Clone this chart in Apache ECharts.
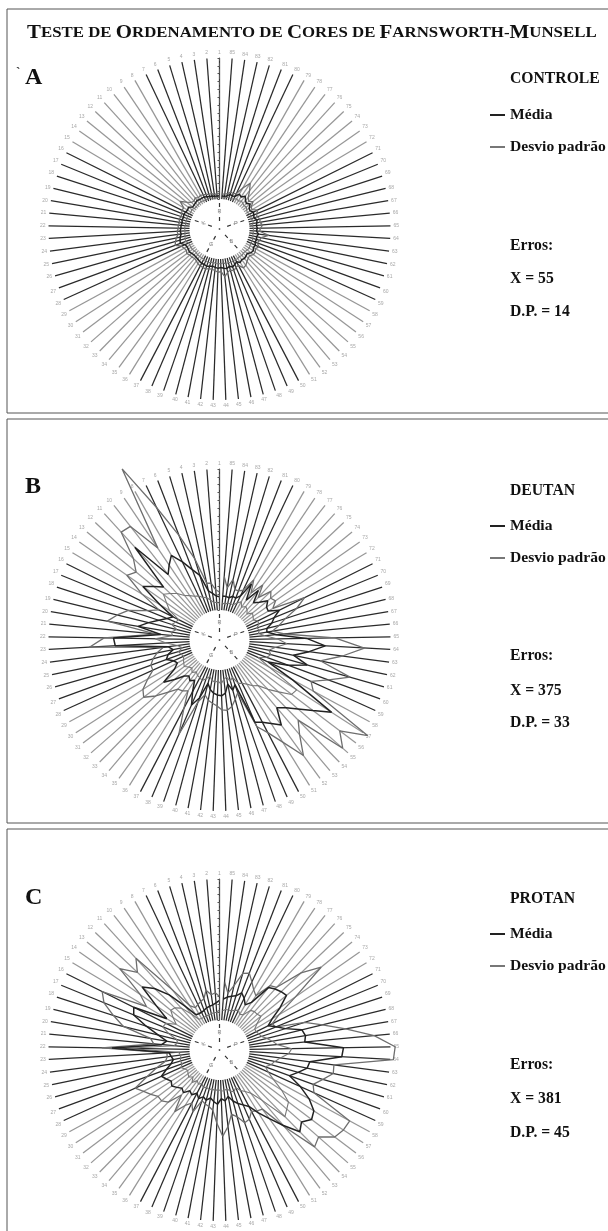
<!DOCTYPE html>
<html><head><meta charset="utf-8">
<style>html,body{margin:0;padding:0;background:#fff}#c{width:608px;height:1231px;filter:blur(0.35px)}</style>
<script src="https://cdn.jsdelivr.net/npm/echarts@6/dist/echarts.min.js"></script>
</head><body><div id="c"></div>
<script>
const capLabels = [];
for (let n = 1; n <= 85; n++) capLabels.push(String(n));
const darkCapRanges = [[1,7],[16,28],[37,50],[59,71],[80,85]];
const hueNames = ['R','P','B','G','Y'];
const hueAngles = [0,71,137,209,289];

const meanA = [.4,.4,.4,.5,.5,.6,.7,.7,.7,.8,.7,.7,.6,1.0,.9,1.0,1.1,1.0,1.1,1.0,1.1,1.1,1.2,1.1,1.3,1.4,1.5,1.0,.9,.9,1.0,.9,.8,.8,.9,1,1.1,1.1,1.2,1.1,1.0,1.1,1.2,1.1,1.2,1.3,1.1,1.3,1.1,.9,1.2,1.0,1.1,1.0,.9,1.2,1.3,1.1,1.2,1.0,1.1,1.0,1.2,.9,1.0,.9,1.0,1.1,.8,.9,1.0,.7,.8,1.2,.9,1.1,1.5,1.1,1.3,.8,.7,.8,.5,.4,.4];
const upperA = [.7,.7,.6,.8,.8,.9,1.0,1.1,1.0,1.2,1.0,1.1,1.6,2.3,1.5,1.5,1.4,1.3,1.5,1.3,1.5,1.4,1.6,1.5,1.8,2.0,2.2,1.5,1.3,1.2,1.4,1.2,1.2,1.1,1.2,1.4,1.5,1.5,1.6,1.4,1.4,1.5,1.7,1.6,2.3,1.8,1.6,1.8,1.5,1.4,2.0,1.9,1.6,1.4,1.3,1.6,1.6,1.4,1.7,1.3,1.5,1.6,2.5,1.3,1.4,1.7,1.4,1.5,1.2,1.3,1.6,1.0,1.1,1.7,1.3,1.6,2.4,3.2,2.2,1.2,1.0,1.1,.8,.7,.6];
const lowerA = [.2,.2,.2,.2,.3,.3,.3,.3,.4,.4,.3,.3,.3,.5,.4,.5,.6,.5,.6,.5,.6,.6,.6,.6,.7,.7,.8,.5,.5,.5,.5,.5,.4,.5,.5,.5,.6,.6,.7,.6,.5,.6,.6,.6,.5,.7,.6,.7,.6,.5,.6,.5,.6,.5,.5,.6,.7,.6,.6,.6,.6,.5,.5,.5,.5,.4,.5,.6,.4,.5,.5,.3,.4,.6,.5,.5,.7,.5,.6,.4,.3,.4,.3,.2,.2];

const meanB = [1.7,1.8,2.2,2.6,4.8,5.8,7.2,8.6,7.7,6.8,12.2,6.0,7.0,8.1,5.0,2.8,3.4,4.3,5.5,6.7,3.7,9.7,9.5,2.8,2.2,3.0,3.4,2.6,2.3,3.0,5.1,3.8,2.6,2.2,2.6,2.2,3.6,5.2,4.0,1.9,2.6,3.0,3.2,3.3,3.0,1.9,2.8,2.2,7.6,8.0,8.7,9.6,7.5,8.3,9.5,11.1,13.2,6.8,3.0,5.5,7.8,5.8,7.7,9.7,7.3,3.5,2.3,2.4,3.2,3.7,4.7,3.4,3.5,4.1,3.2,2.6,4.2,2.3,4.4,2.4,1.9,2.0,1.7,1.8,1.8];
const upperB = [2.3,2.6,3.5,3.6,7.0,10.5,14.9,21.3,10.3,14.6,14.8,11.3,9.9,10.6,7.7,4.8,6.1,8.4,9.6,10.7,4.3,10.9,12.8,3.4,4.3,5.0,5.5,5.5,6.6,7.8,8.3,7.0,5.5,4.4,4.2,3.8,6.0,9.3,4.5,3.4,4.0,4.3,4.6,5.1,5.2,4.8,4.0,3.3,8.2,9.5,11.5,14.4,12.0,10.5,17.1,15.4,18.7,9.8,9.0,11.0,13.5,9.3,12.0,14.7,10.9,4.5,3.0,4.0,5.0,6.8,8.3,4.1,4.9,4.6,5.2,3.5,5.1,3.4,5.0,3.2,2.9,2.9,4.1,2.9,4.3];
const lowerB = [.9,1,1,1.4,1.8,2,2.4,2.6,3,3.4,4.2,4.8,5.4,4.4,3.6,2,2.2,2.6,1.8,2.4,2.2,4.4,3,1.6,1,1.6,1.4,1.2,1.4,1.6,1.8,1.4,1.2,1.6,1.2,1.5,1.6,1.8,1.4,1,1.4,1.6,1.4,1.8,1.2,1,1.6,1.2,2.2,2.4,2.8,3.4,3.8,5,6.2,7.7,7.9,3.4,1.6,2.6,3,2.6,3.4,4.8,3.6,2,1.2,1.4,1.2,1.6,1.6,1.2,1.4,1.6,1,1.4,1.6,1.2,1.8,1.4,1,1,1,.8,.9];

const meanC = [2.5,2.2,2,1.9,1.8,1.6,1.5,1.5,1.6,3.3,5.7,7.6,8.9,6,4,8.4,8,6,4.2,3,3.6,9.9,2.6,2.4,2.2,2.6,3.4,4.3,3.9,3.5,3.8,3.4,3,3.3,2.6,2.9,2.4,2.9,2.5,2.8,2.4,2.8,3.1,2.4,2.7,2.2,2.9,3.4,3.8,4.3,5.6,7,8.8,10.8,10.1,10.9,10.5,9.2,7.5,5.7,6.6,7.6,7.8,11.8,12,7.1,7.3,7,5,4,3.1,4,5.6,7.2,7,6.7,6.3,3.5,2.8,3.5,4,3.4,3.2,3,2.7];
const upperC = [3,3.5,3.3,4,3,2.8,2.6,2.4,3,6,12,10.6,12.6,8.5,7,12.9,12.1,10.4,8.8,5.1,4.6,11.2,2.9,2.9,3.2,4.5,6,8,7.2,6.6,6,6,5.5,3.7,5.9,4.5,3.8,4.8,3,3.3,3.5,3.9,5.5,7.2,6,4.5,5,6,5.8,5,5.3,5.5,9,13.5,13,14.6,15,15.1,9.4,8.9,9.9,11,10.9,18.4,18.6,16,12.5,9.7,7.6,3.9,3.7,5,8,12.9,10.5,7,6.6,4.5,5,5.8,6.7,6.4,4.6,3.5,4.9];
const lowerC = [1.3,1,1,.9,.9,.8,.8,.8,.9,2,3.4,4,4.2,3.4,2.6,3.8,4,3,1.8,1.6,2,8,1.4,1.2,1.2,1.4,1.2,1.6,1.2,1,1.2,1.4,1,1.6,1,1.3,1,1.4,1.2,1.4,1.2,1.4,1.2,1.4,1.4,1.2,1.6,1.8,1.4,2,2.4,3,4.6,8.1,7.6,7.2,5.6,4,3,2.4,3,3.4,4,5,5.4,3.6,3,2.4,1.8,1.6,1.4,1.4,2,3,2.8,2.8,2.6,1.6,1.4,1.8,1.6,1.4,1.4,1.4,1.2];

const headingCaps = ['T','ESTE DE ','O','RDENAMENTO DE ','C','ORES DE ','F','ARNSWORTH-','M','UNSELL'];
const panelLetters = ['A','B','C'];
const panelNames = ['CONTROLE','DEUTAN','PROTAN'];
const errorLabels = ['X = 55','X = 375','X = 381'];
const sdLabels = ['D.P. = 14','D.P. = 33','D.P. = 45'];
const means = [meanA, meanB, meanC];
const uppers = [upperA, upperB, upperC];
const lowers = [lowerA, lowerB, lowerC];

const layout = {
  cx: 219.5, cy: [229, 640, 1050], r0: 30, r1: 171, spokeMax: 18, dataMax: 27,
  frameY: [9, 419, 829], frameH: [404, 404, 420],
  letterY: [78, 487, 898], letterX: 25,
  textX: 510,
  nameY: [79, 491, 899], legendTop: [107, 518, 926],
  errY: [246, 656, 1065], xY: [279, 691, 1099], dpY: [312, 723, 1133]
};
const rData = layout.r0 + (layout.r1 - layout.r0) * layout.dataMax / layout.spokeMax;
const serif = '"Liberation Serif","Times New Roman",serif';
const isDark = n => darkCapRanges.some(([a,b]) => n >= a && n <= b);
const spokeColors = capLabels.map((_, i) => isDark(i+1) ? '#2a2a2a' : '#979797');
const closed = vals => vals.map((v,i)=>[v,i]).concat([[vals[0],0]]);

const polar=[], angleAxis=[], radiusAxis=[], series=[], legend=[], graphic=[];

panelLetters.forEach((L,p)=>{
  const center=[layout.cx,layout.cy[p]];
  const base3=3*p;
  polar.push({center,radius:[layout.r0,layout.r1]});
  angleAxis.push({polarIndex:base3,type:'category',data:capLabels,boundaryGap:false,startAngle:90,clockwise:false,
    axisLine:{show:false},axisTick:{show:false},
    axisLabel:{interval:0,fontSize:5,color:'#a8a8a8',margin:3,fontFamily:'Liberation Sans'},
    splitLine:{show:true,interval:0,lineStyle:{color:spokeColors,width:1.25}}});
  radiusAxis.push({polarIndex:base3,type:'value',min:0,max:layout.spokeMax,interval:1,z:5,
    axisLine:{show:true,lineStyle:{color:'#555',width:1,type:'dashed'}},
    axisTick:{show:true,length:2,lineStyle:{color:'#555'}},
    axisLabel:{show:false},splitLine:{show:false}});
  polar.push({center,radius:[layout.r0,rData]});
  angleAxis.push({polarIndex:base3+1,type:'category',data:capLabels,boundaryGap:false,startAngle:90,clockwise:false,show:false});
  radiusAxis.push({polarIndex:base3+1,type:'value',min:0,max:layout.dataMax,show:false});
  polar.push({center,radius:[0,layout.r0-1]});
  angleAxis.push({polarIndex:base3+2,type:'value',min:0,max:360,startAngle:90,clockwise:true,show:false});
  radiusAxis.push({polarIndex:base3+2,type:'value',min:0,max:1,show:false});

  const base={type:'line',coordinateSystem:'polar',polarIndex:base3+1,symbol:'none',silent:true,clip:false,animation:false};
  series.push(Object.assign({},base,{name:'Desvio padrão',data:closed(uppers[p]),z:3,itemStyle:{color:'#777'},lineStyle:{color:'#6e6e6e',width:1.3}}));
  series.push(Object.assign({},base,{name:'Desvio padrão',data:closed(lowers[p]),z:3,itemStyle:{color:'#777'},lineStyle:{color:'#777',width:1.1}}));
  series.push(Object.assign({},base,{name:'Média',data:closed(means[p]),z:4,itemStyle:{color:'#222'},lineStyle:{color:'#222',width:1.5}}));
  hueNames.forEach((h,i)=>{
    series.push({type:'line',coordinateSystem:'polar',polarIndex:base3+2,symbol:'none',silent:true,animation:false,clip:false,z:6,
      data:[[0.28,hueAngles[i]],[1.05,hueAngles[i]]],lineStyle:{color:'#333',width:1.2,type:[4,3]}});
    series.push({type:'scatter',coordinateSystem:'polar',polarIndex:base3+2,symbolSize:0.1,silent:true,animation:false,z:7,
      data:[[0.6,hueAngles[i]]],
      label:{show:true,position:'inside',formatter:h,fontSize:5.5,color:'#666',fontFamily:'Liberation Sans',backgroundColor:'#fff',padding:0}});
  });
  series.push({type:'scatter',coordinateSystem:'polar',polarIndex:base3+2,symbolSize:1.8,silent:true,animation:false,z:7,
    data:[[0,0]],itemStyle:{color:'#333'}});
  legend.push({left:490,top:layout.legendTop[p],padding:0,orient:'vertical',selectedMode:false,itemWidth:15,itemHeight:2,itemGap:16,
    data:[{name:'Média',icon:'rect'},{name:'Desvio padrão',icon:'rect'}],
    textStyle:{fontFamily:serif,fontWeight:'bold',fontSize:15.6,color:'#111'}});
  graphic.push({type:'rect',silent:true,z:-1,shape:{x:7,y:layout.frameY[p],width:640,height:layout.frameH[p]},
    style:{fill:'none',stroke:'#555',lineWidth:1}});
  const txt=(x,y,t,size)=>graphic.push({type:'text',silent:true,x,y,style:{text:t,font:'bold '+size+'px '+serif,fill:'#111',textVerticalAlign:'middle'}});
  txt(layout.letterX,layout.letterY[p],L,24);
  txt(layout.textX,layout.nameY[p],panelNames[p],15.7);
  txt(layout.textX,layout.errY[p],'Erros:',15.7);
  txt(layout.textX,layout.xY[p],errorLabels[p],15.7);
  txt(layout.textX,layout.dpY[p],sdLabels[p],15.7);
});
graphic.push({type:'text',silent:true,x:16,y:73,style:{text:'`',font:'bold 13px '+serif,fill:'#333',textVerticalAlign:'middle'}});
graphic.push({type:'text',silent:true,x:27,y:33,scaleX:1.1,style:{
  text:headingCaps.map((s,i)=>(i%2?'{s|':'{b|')+s+'}').join(''),textVerticalAlign:'middle',
  rich:{b:{font:'bold 19px '+serif,fill:'#111'},s:{font:'bold 15.3px '+serif,fill:'#111'}}}});

const chart=echarts.init(document.getElementById('c'),null,{renderer:'canvas',width:608,height:1231});
chart.setOption({animation:false,backgroundColor:'#fff',polar,angleAxis,radiusAxis,series,legend,graphic});
</script></body></html>
